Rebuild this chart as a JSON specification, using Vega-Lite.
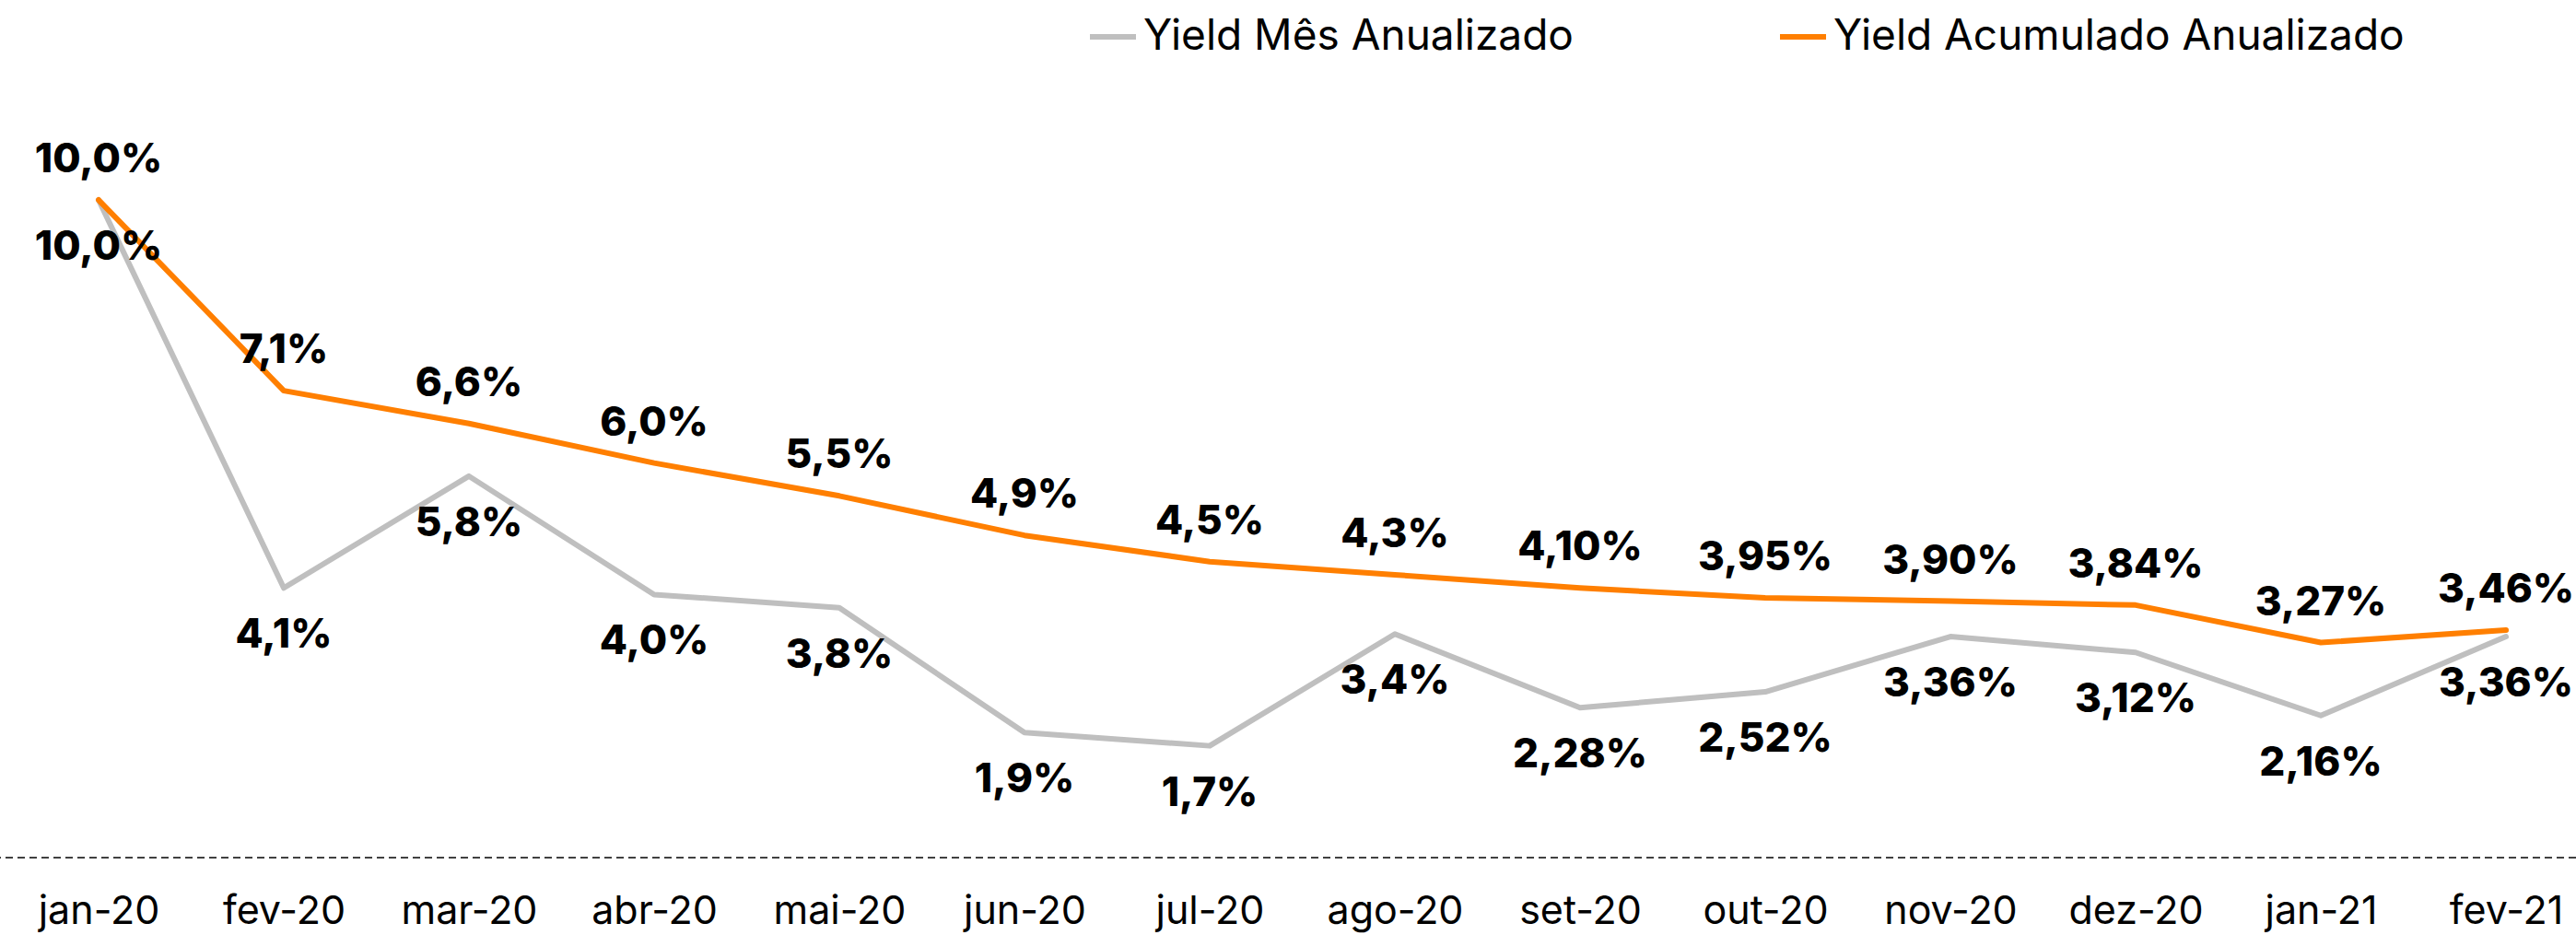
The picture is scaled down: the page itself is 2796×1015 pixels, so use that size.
{
  "$schema": "https://vega.github.io/schema/vega-lite/v6.json",
  "width": 2796,
  "height": 931,
  "autosize": {"type": "none"},
  "padding": {"left": 0, "top": 0, "right": 0, "bottom": 84},
  "background": "white",
  "config": {"view": {"stroke": null}, "font": "Inter"},
  "data": {
    "values": [
      {"mes": "jan-20", "serie": "Yield Mês Anualizado", "valor": 10.0, "rotulo": "10,0%"},
      {"mes": "fev-20", "serie": "Yield Mês Anualizado", "valor": 4.1, "rotulo": "4,1%"},
      {"mes": "mar-20", "serie": "Yield Mês Anualizado", "valor": 5.8, "rotulo": "5,8%"},
      {"mes": "abr-20", "serie": "Yield Mês Anualizado", "valor": 4.0, "rotulo": "4,0%"},
      {"mes": "mai-20", "serie": "Yield Mês Anualizado", "valor": 3.8, "rotulo": "3,8%"},
      {"mes": "jun-20", "serie": "Yield Mês Anualizado", "valor": 1.9, "rotulo": "1,9%"},
      {"mes": "jul-20", "serie": "Yield Mês Anualizado", "valor": 1.7, "rotulo": "1,7%"},
      {"mes": "ago-20", "serie": "Yield Mês Anualizado", "valor": 3.4, "rotulo": "3,4%"},
      {"mes": "set-20", "serie": "Yield Mês Anualizado", "valor": 2.28, "rotulo": "2,28%"},
      {"mes": "out-20", "serie": "Yield Mês Anualizado", "valor": 2.52, "rotulo": "2,52%"},
      {"mes": "nov-20", "serie": "Yield Mês Anualizado", "valor": 3.36, "rotulo": "3,36%"},
      {"mes": "dez-20", "serie": "Yield Mês Anualizado", "valor": 3.12, "rotulo": "3,12%"},
      {"mes": "jan-21", "serie": "Yield Mês Anualizado", "valor": 2.16, "rotulo": "2,16%"},
      {"mes": "fev-21", "serie": "Yield Mês Anualizado", "valor": 3.36, "rotulo": "3,36%"},
      {"mes": "jan-20", "serie": "Yield Acumulado Anualizado", "valor": 10.0, "rotulo": "10,0%"},
      {"mes": "fev-20", "serie": "Yield Acumulado Anualizado", "valor": 7.1, "rotulo": "7,1%"},
      {"mes": "mar-20", "serie": "Yield Acumulado Anualizado", "valor": 6.6, "rotulo": "6,6%"},
      {"mes": "abr-20", "serie": "Yield Acumulado Anualizado", "valor": 6.0, "rotulo": "6,0%"},
      {"mes": "mai-20", "serie": "Yield Acumulado Anualizado", "valor": 5.5, "rotulo": "5,5%"},
      {"mes": "jun-20", "serie": "Yield Acumulado Anualizado", "valor": 4.9, "rotulo": "4,9%"},
      {"mes": "jul-20", "serie": "Yield Acumulado Anualizado", "valor": 4.5, "rotulo": "4,5%"},
      {"mes": "ago-20", "serie": "Yield Acumulado Anualizado", "valor": 4.3, "rotulo": "4,3%"},
      {"mes": "set-20", "serie": "Yield Acumulado Anualizado", "valor": 4.10, "rotulo": "4,10%"},
      {"mes": "out-20", "serie": "Yield Acumulado Anualizado", "valor": 3.95, "rotulo": "3,95%"},
      {"mes": "nov-20", "serie": "Yield Acumulado Anualizado", "valor": 3.90, "rotulo": "3,90%"},
      {"mes": "dez-20", "serie": "Yield Acumulado Anualizado", "valor": 3.84, "rotulo": "3,84%"},
      {"mes": "jan-21", "serie": "Yield Acumulado Anualizado", "valor": 3.27, "rotulo": "3,27%"},
      {"mes": "fev-21", "serie": "Yield Acumulado Anualizado", "valor": 3.46, "rotulo": "3,46%"}
    ]
  },
  "encoding": {
    "x": {
      "field": "mes",
      "type": "ordinal",
      "sort": null,
      "scale": {"type": "point", "range": [107, 2720], "padding": 0},
      "axis": {
        "title": null,
        "domain": false,
        "ticks": false,
        "tickSize": 0,
        "grid": false,
        "labelAngle": 0,
        "labelFont": "Inter",
        "labelFontSize": 43,
        "labelColor": "#000000",
        "labelBaseline": "alphabetic",
        "labelPadding": 71
      }
    },
    "y": {
      "field": "valor",
      "type": "quantitative",
      "scale": {"domain": [0, 13.04], "nice": false, "zero": true},
      "axis": null
    }
  },
  "layer": [
    {
      "mark": {"type": "rule", "strokeDash": [8, 5], "color": "#404040", "strokeWidth": 2},
      "encoding": {"x": null, "y": {"datum": 0}}
    },
    {
      "mark": {"type": "line", "strokeWidth": 6, "strokeCap": "round", "strokeJoin": "round"},
      "encoding": {
        "color": {
          "field": "serie",
          "type": "nominal",
          "sort": ["Yield Mês Anualizado", "Yield Acumulado Anualizado"],
          "scale": {"domain": ["Yield Mês Anualizado", "Yield Acumulado Anualizado"], "range": ["#BFBFBF", "#FF7F00"]},
          "legend": {
            "title": null,
            "orient": "none",
            "legendX": 1180,
            "legendY": 12,
            "direction": "horizontal",
            "symbolType": "stroke",
            "symbolStrokeWidth": 6,
            "symbolSize": 2500,
            "labelFont": "Inter",
            "labelFontSize": 46,
            "labelColor": "#000000",
            "labelLimit": 1000,
            "labelOffset": 5,
            "columnPadding": 212
          }
        }
      }
    },
    {
      "transform": [{"filter": "datum.serie === 'Yield Acumulado Anualizado'"}],
      "mark": {"type": "text", "font": "Inter", "fontWeight": 800, "fontSize": 44, "color": "#000000", "align": "center", "baseline": "middle", "dy": -43},
      "encoding": {"text": {"field": "rotulo"}}
    },
    {
      "transform": [{"filter": "datum.serie === 'Yield Mês Anualizado'"}],
      "mark": {"type": "text", "font": "Inter", "fontWeight": 800, "fontSize": 44, "color": "#000000", "align": "center", "baseline": "middle", "dy": 52},
      "encoding": {"text": {"field": "rotulo"}}
    }
  ]
}
